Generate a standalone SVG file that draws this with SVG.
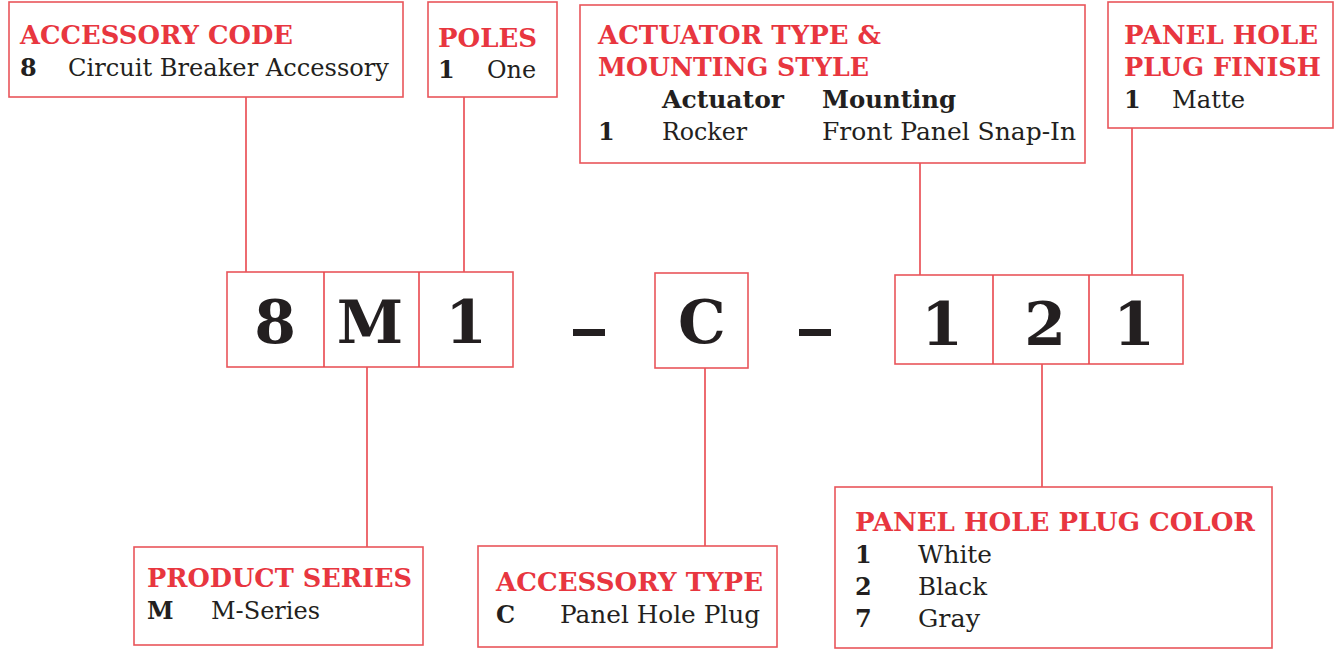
<svg xmlns="http://www.w3.org/2000/svg" width="1335" height="649" viewBox="0 0 1335 649">
<style>
.box{fill:#fff;stroke:#e9555b;stroke-width:1.6}
.ln{stroke:#e9474d;stroke-width:1.6;fill:none}
.t{font-family:"DejaVu Serif","Liberation Serif",serif;font-weight:bold;font-size:26px;fill:#e8363f}
.b{font-family:"DejaVu Serif","Liberation Serif",serif;font-size:24px;fill:#231f20}
.k{font-family:"DejaVu Serif","Liberation Serif",serif;font-weight:bold;font-size:24px;fill:#231f20}
.big{font-family:"DejaVu Serif","Liberation Serif",serif;font-weight:bold;font-size:60px;fill:#231f20;text-anchor:middle}
</style>
<rect width="1335" height="649" fill="#fff"/>
<g id="connectors">
<line class="ln" x1="246" y1="97" x2="246" y2="272"/>
<line class="ln" x1="464" y1="97" x2="464" y2="272"/>
<line class="ln" x1="920" y1="163" x2="920" y2="275"/>
<line class="ln" x1="1132" y1="128" x2="1132" y2="275"/>
<line class="ln" x1="367" y1="367" x2="367" y2="547"/>
<line class="ln" x1="705" y1="368" x2="705" y2="546"/>
<line class="ln" x1="1042" y1="364" x2="1042" y2="487"/>
</g>
<g id="accessory-code">
<rect class="box" x="9" y="2" width="394" height="95"/>
<text class="t" x="20" y="44" textLength="273" lengthAdjust="spacingAndGlyphs">ACCESSORY CODE</text>
<text class="k" x="20" y="76">8</text>
<text class="b" x="68" y="76" textLength="321" lengthAdjust="spacingAndGlyphs">Circuit Breaker Accessory</text>
</g>
<g id="poles">
<rect class="box" x="428" y="2" width="129" height="95"/>
<text class="t" x="438" y="47" textLength="99" lengthAdjust="spacingAndGlyphs">POLES</text>
<text class="k" x="438" y="78">1</text>
<text class="b" x="487" y="78" textLength="49" lengthAdjust="spacingAndGlyphs">One</text>
</g>
<g id="actuator">
<rect class="box" x="580" y="5" width="505" height="158"/>
<text class="t" x="598" y="44" textLength="283" lengthAdjust="spacingAndGlyphs">ACTUATOR TYPE &amp;</text>
<text class="t" x="598" y="76" textLength="271" lengthAdjust="spacingAndGlyphs">MOUNTING STYLE</text>
<text class="k" x="662" y="108" textLength="122" lengthAdjust="spacingAndGlyphs">Actuator</text>
<text class="k" x="822" y="108" textLength="134" lengthAdjust="spacingAndGlyphs">Mounting</text>
<text class="k" x="598" y="140">1</text>
<text class="b" x="662" y="140" textLength="85" lengthAdjust="spacingAndGlyphs">Rocker</text>
<text class="b" x="822" y="140" textLength="254" lengthAdjust="spacingAndGlyphs">Front Panel Snap-In</text>
</g>
<g id="plug-finish">
<rect class="box" x="1108" y="2" width="225" height="126"/>
<text class="t" x="1124" y="44" textLength="194" lengthAdjust="spacingAndGlyphs">PANEL HOLE</text>
<text class="t" x="1124" y="76" textLength="197" lengthAdjust="spacingAndGlyphs">PLUG FINISH</text>
<text class="k" x="1124" y="108">1</text>
<text class="b" x="1172" y="108" textLength="73" lengthAdjust="spacingAndGlyphs">Matte</text>
</g>
<g id="code-group-1">
<rect class="box" x="227" y="272" width="286" height="95"/>
<line class="ln" x1="324" y1="272" x2="324" y2="367"/>
<line class="ln" x1="419" y1="272" x2="419" y2="367"/>
<text class="big" x="275" y="343">8</text>
<text class="big" x="370" y="343">M</text>
<text class="big" x="466" y="343">1</text>
</g>
<g id="dashes">
<rect x="573" y="329" width="32" height="7" fill="#231f20"/>
<rect x="799" y="329" width="32" height="7" fill="#231f20"/>
</g>
<g id="code-c">
<rect class="box" x="655" y="273" width="93" height="95"/>
<text class="big" x="702" y="343">C</text>
</g>
<g id="code-group-2">
<rect class="box" x="895" y="275" width="288" height="89"/>
<line class="ln" x1="993" y1="275" x2="993" y2="364"/>
<line class="ln" x1="1089" y1="275" x2="1089" y2="364"/>
<text class="big" x="942" y="345">1</text>
<text class="big" x="1045" y="345">2</text>
<text class="big" x="1134" y="345">1</text>
</g>
<g id="product-series">
<rect class="box" x="134" y="547" width="289" height="98"/>
<text class="t" x="147" y="587" textLength="265" lengthAdjust="spacingAndGlyphs">PRODUCT SERIES</text>
<text class="k" x="147" y="619">M</text>
<text class="b" x="211" y="619" textLength="109" lengthAdjust="spacingAndGlyphs">M-Series</text>
</g>
<g id="accessory-type">
<rect class="box" x="478" y="546" width="299" height="101"/>
<text class="t" x="496" y="591" textLength="267" lengthAdjust="spacingAndGlyphs">ACCESSORY TYPE</text>
<text class="k" x="496" y="623">C</text>
<text class="b" x="560" y="623" textLength="200" lengthAdjust="spacingAndGlyphs">Panel Hole Plug</text>
</g>
<g id="plug-color">
<rect class="box" x="835" y="487" width="437" height="161"/>
<text class="t" x="855" y="531" textLength="400" lengthAdjust="spacingAndGlyphs">PANEL HOLE PLUG COLOR</text>
<text class="k" x="855" y="563">1</text>
<text class="b" x="918" y="563" textLength="74" lengthAdjust="spacingAndGlyphs">White</text>
<text class="k" x="855" y="595">2</text>
<text class="b" x="918" y="595" textLength="69" lengthAdjust="spacingAndGlyphs">Black</text>
<text class="k" x="855" y="627">7</text>
<text class="b" x="918" y="627" textLength="62" lengthAdjust="spacingAndGlyphs">Gray</text>
</g>
</svg>
